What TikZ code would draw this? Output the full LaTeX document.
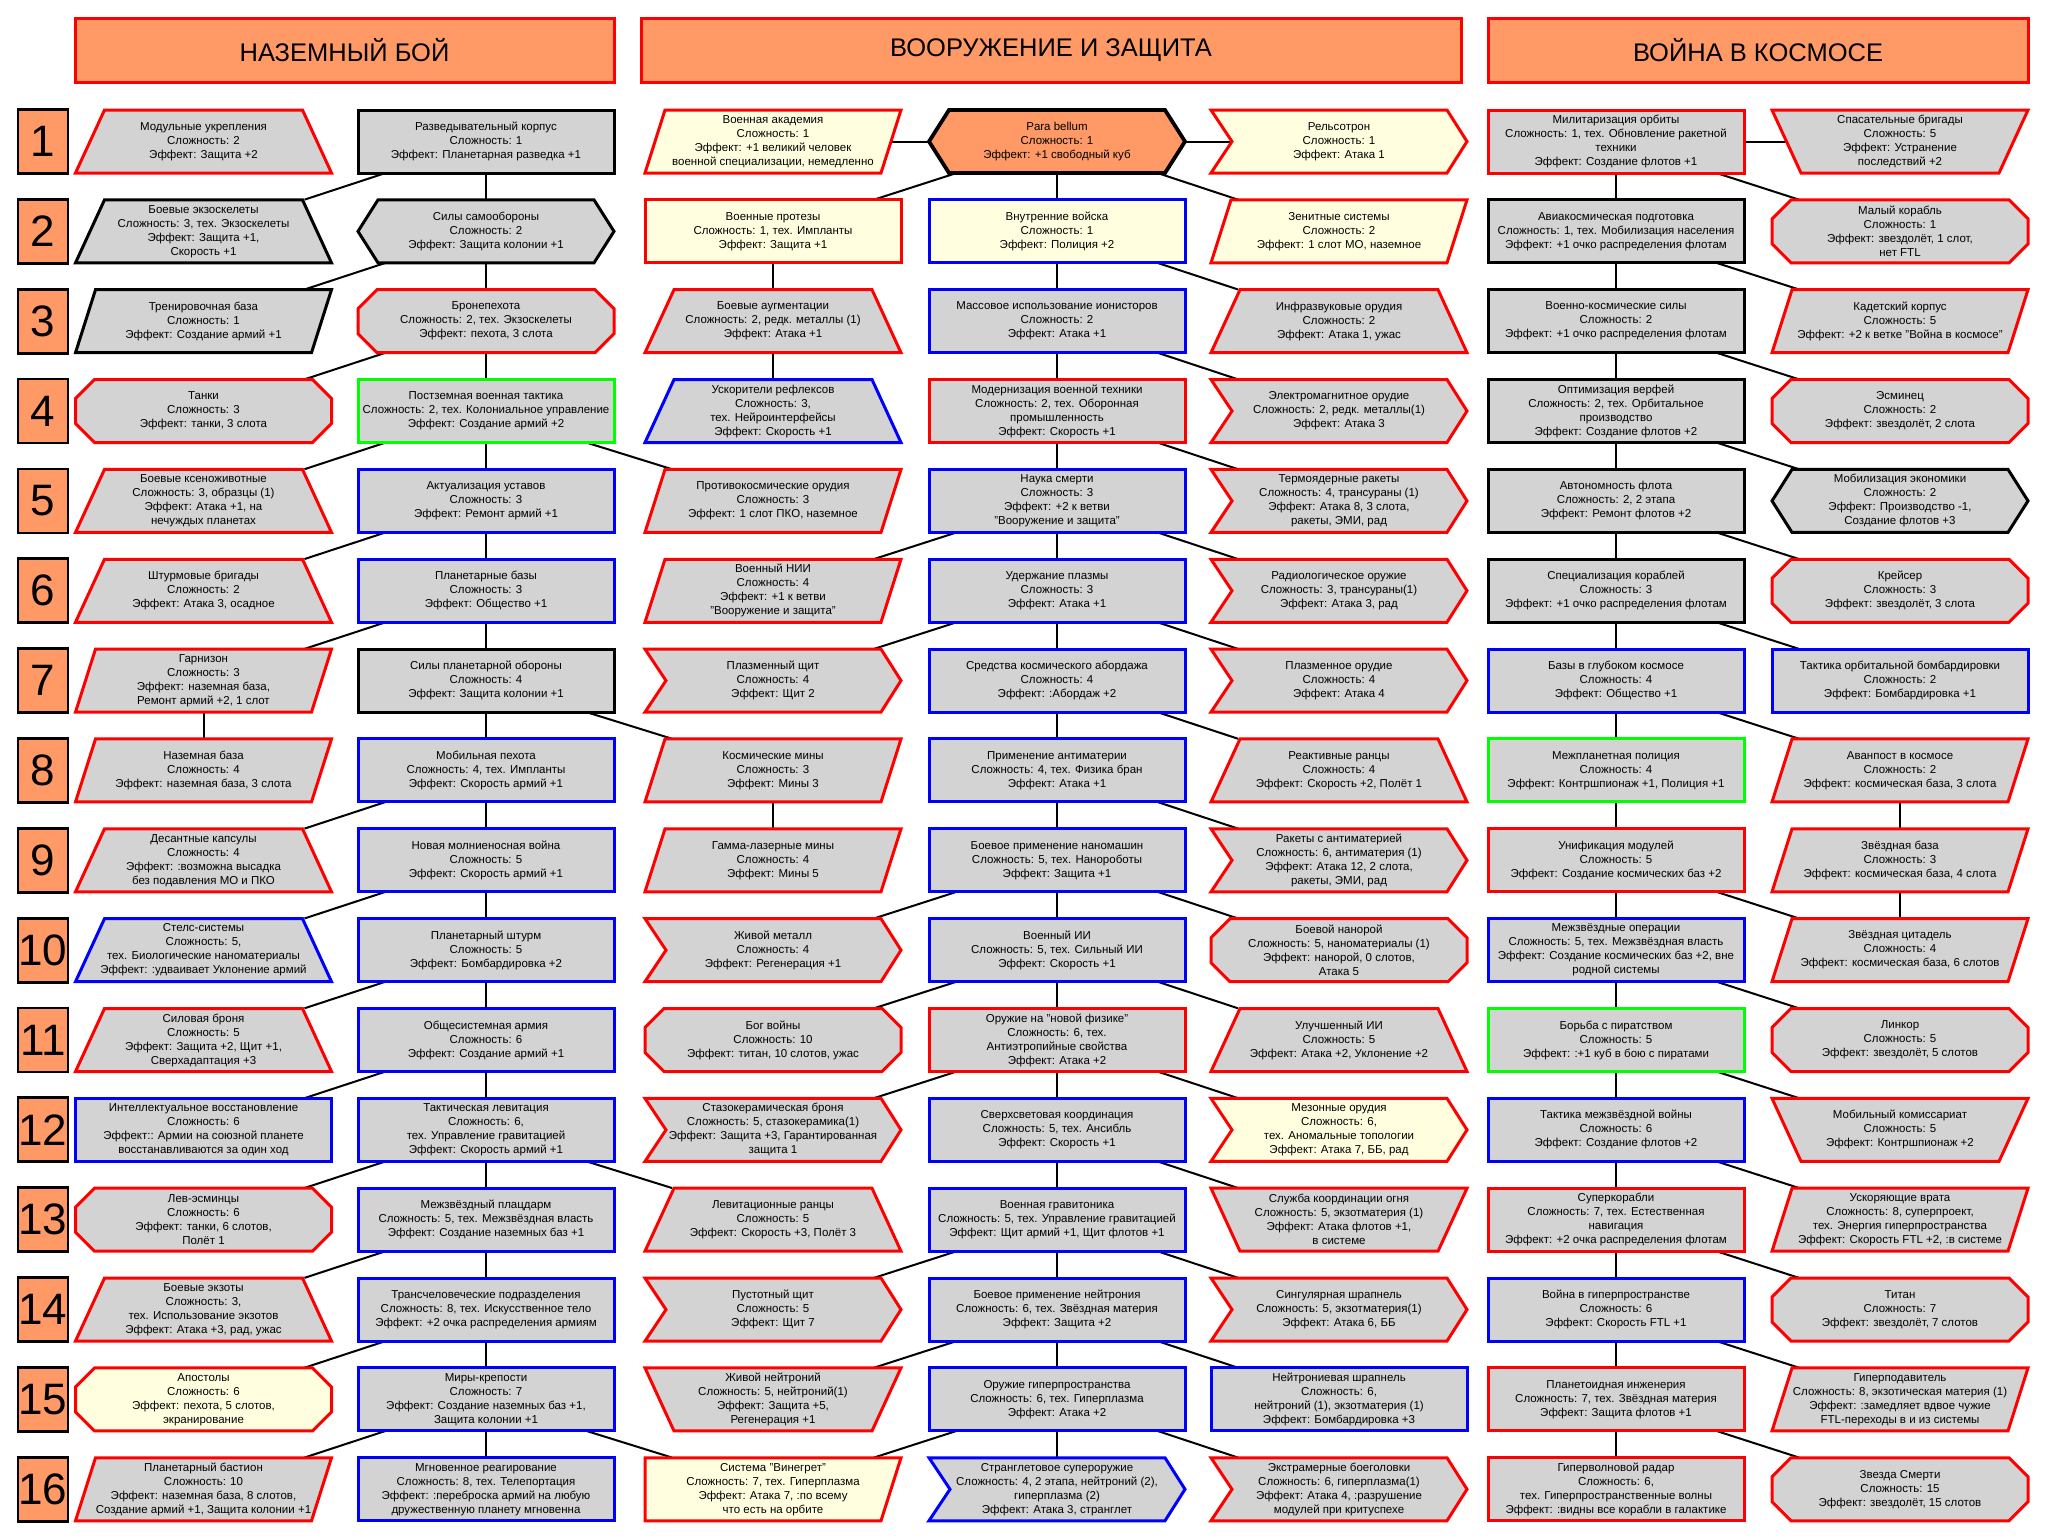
\documentclass[tikz,border=0pt]{standalone}
\usepackage{fontspec}
\setmainfont{Liberation Sans}
\usetikzlibrary{calc}
\pgfdeclarelayer{bg}
\pgfsetlayers{bg,main}
\definecolor{ngray}{HTML}{D3D3D3}
\definecolor{nyel}{HTML}{FFFFE0}
\definecolor{norg}{HTML}{FF9966}
\definecolor{nred}{HTML}{FF0000}
\definecolor{nblue}{HTML}{0000FF}
\definecolor{ngreen}{HTML}{00FF00}
\tikzset{
  shp/.style={line width=3pt},
  txt/.style={font=\fontsize{11.5}{14}\selectfont, align=center, inner sep=0pt, minimum width=256pt, minimum height=63pt},
  conn/.style={draw=black, line width=2pt},
  hdr/.style={draw=nred, fill=norg, line width=3pt, inner sep=0pt, font=\fontsize{25.5}{28}\selectfont, minimum height=64pt},
  numbox/.style={draw=black, fill=norg, line width=2.8pt, inner sep=0pt, minimum width=50pt, minimum height=64pt, font=\fontsize{44}{44}\selectfont}
}
\newcommand\shR[1]{\path[#1] (-128,-31.5) rectangle (128,31.5);}
\newcommand\shTB[1]{\path[#1] (-99,-31.5) -- (99,-31.5) -- (128,31.5) -- (-128,31.5) -- cycle;}
\newcommand\shTT[1]{\path[#1] (-128,-31.5) -- (128,-31.5) -- (99,31.5) -- (-99,31.5) -- cycle;}
\newcommand\shPR[1]{\path[#1] (-108,-31.5) -- (128,-31.5) -- (108,31.5) -- (-128,31.5) -- cycle;}
\newcommand\shRT[1]{\path[#1] (-128,-31.5) -- (128,-31.5) -- (108,31.5) -- (-128,31.5) -- cycle;}
\newcommand\shHX[1]{\path[#1] (-128,0) -- (-108,-31.5) -- (108,-31.5) -- (128,0) -- (108,31.5) -- (-108,31.5) -- cycle;}
\newcommand\shOC[1]{\path[#1] (-128,-12.5) -- (-109,-31.5) -- (109,-31.5) -- (128,-12.5) -- (128,12.5) -- (109,31.5) -- (-109,31.5) -- (-128,12.5) -- cycle;}
\newcommand\shCV[1]{\path[#1] (-128,-31.5) -- (108,-31.5) -- (128,0) -- (108,31.5) -- (-128,31.5) -- (-107,0) -- cycle;}
\newcommand\mknode[7]{%
  \pgfmathsetmacro\rowy{141.5+(#3-1)*89.85}%
  \begin{scope}[shift={(#2,\rowy)}]
    \csname sh#4\endcsname{shp,draw=#5,fill=#6}
    \node[txt] (#1) at (0,0) {#7};
  \end{scope}}
\begin{document}
\begin{tikzpicture}[x=1pt,y=-1pt]
\useasboundingbox (0,0) rectangle (2058,1537);
% headers
\node[hdr, minimum width=539pt] (h1) at (344.5,50) {НАЗЕМНЫЙ БОЙ};
\node[hdr, minimum width=820pt] (h2) at (1051,50) {ВООРУЖЕНИЕ И ЗАЩИТА};
\node[hdr, minimum width=540pt] (h3) at (1758,50) {ВОЙНА В КОСМОСЕ};
% row numbers
\foreach \i in {1,...,16}{
  \pgfmathsetmacro\numy{141.5+(\i-1)*89.85}
  \node[numbox] (n\i) at (43,\numy) {\i};
}
% ground combat
\mknode{a1}{203.5}{1}{TB}{nred}{ngray}{Модульные укрепления\\Сложность: 2\\Эффект: Защита +2}
\mknode{b1}{486}{1}{R}{black}{ngray}{Разведывательный корпус\\Сложность: 1\\Эффект: Планетарная разведка +1}
\mknode{a2}{203.5}{2}{TB}{black}{ngray}{Боевые экзоскелеты\\Сложность: 3, тех. Экзоскелеты\\Эффект: Защита +1,\\Скорость +1}
\mknode{b2}{486}{2}{HX}{black}{ngray}{Силы самообороны\\Сложность: 2\\Эффект: Защита колонии +1}
\mknode{a3}{203.5}{3}{PR}{black}{ngray}{Тренировочная база\\Сложность: 1\\Эффект: Создание армий +1}
\mknode{b3}{486}{3}{OC}{nred}{ngray}{Бронепехота\\Сложность: 2, тех. Экзоскелеты\\Эффект: пехота, 3 слота}
\mknode{a4}{203.5}{4}{OC}{nred}{ngray}{Танки\\Сложность: 3\\Эффект: танки, 3 слота}
\mknode{b4}{486}{4}{R}{ngreen}{ngray}{Постземная военная тактика\\Сложность: 2, тех. Колониальное управление\\Эффект: Создание армий +2}
\mknode{a5}{203.5}{5}{TB}{nred}{ngray}{Боевые ксеноживотные\\Сложность: 3, образцы (1)\\Эффект: Атака +1, на\\нечуждых планетах}
\mknode{b5}{486}{5}{R}{nblue}{ngray}{Актуализация уставов\\Сложность: 3\\Эффект: Ремонт армий +1}
\mknode{a6}{203.5}{6}{TB}{nred}{ngray}{Штурмовые бригады\\Сложность: 2\\Эффект: Атака 3, осадное}
\mknode{b6}{486}{6}{R}{nblue}{ngray}{Планетарные базы\\Сложность: 3\\Эффект: Общество +1}
\mknode{a7}{203.5}{7}{PR}{nred}{ngray}{Гарнизон\\Сложность: 3\\Эффект: наземная база,\\Ремонт армий +2, 1 слот}
\mknode{b7}{486}{7}{R}{black}{ngray}{Силы планетарной обороны\\Сложность: 4\\Эффект: Защита колонии +1}
\mknode{a8}{203.5}{8}{PR}{nred}{ngray}{Наземная база\\Сложность: 4\\Эффект: наземная база, 3 слота}
\mknode{b8}{486}{8}{R}{nblue}{ngray}{Мобильная пехота\\Сложность: 4, тех. Импланты\\Эффект: Скорость армий +1}
\mknode{a9}{203.5}{9}{TB}{nred}{ngray}{Десантные капсулы\\Сложность: 4\\Эффект: :возможна высадка\\без подавления МО и ПКО}
\mknode{b9}{486}{9}{R}{nblue}{ngray}{Новая молниеносная война\\Сложность: 5\\Эффект: Скорость армий +1}
\mknode{a10}{203.5}{10}{TB}{nblue}{ngray}{Стелс-системы\\Сложность: 5,\\тех. Биологические наноматериалы\\Эффект: :удваивает Уклонение армий}
\mknode{b10}{486}{10}{R}{nblue}{ngray}{Планетарный штурм\\Сложность: 5\\Эффект: Бомбардировка +2}
\mknode{a11}{203.5}{11}{TB}{nred}{ngray}{Силовая броня\\Сложность: 5\\Эффект: Защита +2, Щит +1,\\Сверхадаптация +3}
\mknode{b11}{486}{11}{R}{nblue}{ngray}{Общесистемная армия\\Сложность: 6\\Эффект: Создание армий +1}
\mknode{a12}{203.5}{12}{R}{nblue}{ngray}{Интеллектуальное восстановление\\Сложность: 6\\Эффект:: Армии на союзной планете\\восстанавливаются за один ход}
\mknode{b12}{486}{12}{R}{nblue}{ngray}{Тактическая левитация\\Сложность: 6,\\тех. Управление гравитацией\\Эффект: Скорость армий +1}
\mknode{a13}{203.5}{13}{OC}{nred}{ngray}{Лев-эсминцы\\Сложность: 6\\Эффект: танки, 6 слотов,\\Полёт 1}
\mknode{b13}{486}{13}{R}{nblue}{ngray}{Межзвёздный плацдарм\\Сложность: 5, тех. Межзвёздная власть\\Эффект: Создание наземных баз +1}
\mknode{a14}{203.5}{14}{TB}{nred}{ngray}{Боевые экзоты\\Сложность: 3,\\тех. Использование экзотов\\Эффект: Атака +3, рад, ужас}
\mknode{b14}{486}{14}{R}{nblue}{ngray}{Трансчеловеческие подразделения\\Сложность: 8, тех. Искусственное тело\\Эффект: +2 очка распределения армиям}
\mknode{a15}{203.5}{15}{OC}{nred}{nyel}{Апостолы\\Сложность: 6\\Эффект: пехота, 5 слотов,\\экранирование}
\mknode{b15}{486}{15}{R}{nblue}{ngray}{Миры-крепости\\Сложность: 7\\Эффект: Создание наземных баз +1,\\Защита колонии +1}
\mknode{a16}{203.5}{16}{PR}{nred}{ngray}{Планетарный бастион\\Сложность: 10\\Эффект: наземная база, 8 слотов,\\Создание армий +1, Защита колонии +1}
\mknode{b16}{486}{16}{R}{nblue}{ngray}{Мгновенное реагирование\\Сложность: 8, тех. Телепортация\\Эффект: :переброска армий на любую\\дружественную планету мгновенна}
% weapons and defence
\mknode{c1}{773}{1}{PR}{nred}{nyel}{Военная академия\\Сложность: 1\\Эффект: +1 великий человек\\военной специализации, немедленно}
\mknode{d1}{1057}{1}{HX}{black,line width=3.8pt}{norg}{Para bellum\\Сложность: 1\\Эффект: +1 свободный куб}
\mknode{e1}{1339}{1}{CV}{nred}{nyel}{Рельсотрон\\Сложность: 1\\Эффект: Атака 1}
\mknode{c2}{773}{2}{R}{nred}{nyel}{Военные протезы\\Сложность: 1, тех. Импланты\\Эффект: Защита +1}
\mknode{d2}{1057}{2}{R}{nblue}{nyel}{Внутренние войска\\Сложность: 1\\Эффект: Полиция +2}
\mknode{e2}{1339}{2}{PR}{nred}{nyel}{Зенитные системы\\Сложность: 2\\Эффект: 1 слот МО, наземное}
\mknode{c3}{773}{3}{TB}{nred}{ngray}{Боевые аугментации\\Сложность: 2, редк. металлы (1)\\Эффект: Атака +1}
\mknode{d3}{1057}{3}{R}{nblue}{ngray}{Массовое использование ионисторов\\Сложность: 2\\Эффект: Атака +1}
\mknode{e3}{1339}{3}{TB}{nred}{ngray}{Инфразвуковые орудия\\Сложность: 2\\Эффект: Атака 1, ужас}
\mknode{c4}{773}{4}{TB}{nblue}{ngray}{Ускорители рефлексов\\Сложность: 3,\\тех. Нейроинтерфейсы\\Эффект: Скорость +1}
\mknode{d4}{1057}{4}{R}{nred}{ngray}{Модернизация военной техники\\Сложность: 2, тех. Оборонная\\промышленность\\Эффект: Скорость +1}
\mknode{e4}{1339}{4}{CV}{nred}{ngray}{Электромагнитное орудие\\Сложность: 2, редк. металлы(1)\\Эффект: Атака 3}
\mknode{c5}{773}{5}{PR}{nred}{ngray}{Противокосмические орудия\\Сложность: 3\\Эффект: 1 слот ПКО, наземное}
\mknode{d5}{1057}{5}{R}{nblue}{ngray}{Наука смерти\\Сложность: 3\\Эффект: +2 к ветви\\"Вооружение и защита"}
\mknode{e5}{1339}{5}{CV}{nred}{ngray}{Термоядерные ракеты\\Сложность: 4, трансураны (1)\\Эффект: Атака 8, 3 слота,\\ракеты, ЭМИ, рад}
\mknode{c6}{773}{6}{PR}{nred}{ngray}{Военный НИИ\\Сложность: 4\\Эффект: +1 к ветви\\"Вооружение и защита"}
\mknode{d6}{1057}{6}{R}{nblue}{ngray}{Удержание плазмы\\Сложность: 3\\Эффект: Атака +1}
\mknode{e6}{1339}{6}{CV}{nred}{ngray}{Радиологическое оружие\\Сложность: 3, трансураны(1)\\Эффект: Атака 3, рад}
\mknode{c7}{773}{7}{CV}{nred}{ngray}{Плазменный щит\\Сложность: 4\\Эффект: Щит 2}
\mknode{d7}{1057}{7}{R}{nblue}{ngray}{Средства космического абордажа\\Сложность: 4\\Эффект: :Абордаж +2}
\mknode{e7}{1339}{7}{CV}{nred}{ngray}{Плазменное орудие\\Сложность: 4\\Эффект: Атака 4}
\mknode{c8}{773}{8}{PR}{nred}{ngray}{Космические мины\\Сложность: 3\\Эффект: Мины 3}
\mknode{d8}{1057}{8}{R}{nblue}{ngray}{Применение антиматерии\\Сложность: 4, тех. Физика бран\\Эффект: Атака +1}
\mknode{e8}{1339}{8}{TB}{nred}{ngray}{Реактивные ранцы\\Сложность: 4\\Эффект: Скорость +2, Полёт 1}
\mknode{c9}{773}{9}{PR}{nred}{ngray}{Гамма-лазерные мины\\Сложность: 4\\Эффект: Мины 5}
\mknode{d9}{1057}{9}{R}{nblue}{ngray}{Боевое применение наномашин\\Сложность: 5, тех. Нанороботы\\Эффект: Защита +1}
\mknode{e9}{1339}{9}{CV}{nred}{ngray}{Ракеты с антиматерией\\Сложность: 6, антиматерия (1)\\Эффект: Атака 12, 2 слота,\\ракеты, ЭМИ, рад}
\mknode{c10}{773}{10}{CV}{nred}{ngray}{Живой металл\\Сложность: 4\\Эффект: Регенерация +1}
\mknode{d10}{1057}{10}{R}{nblue}{ngray}{Военный ИИ\\Сложность: 5, тех. Сильный ИИ\\Эффект: Скорость +1}
\mknode{e10}{1339}{10}{OC}{nred}{ngray}{Боевой нанорой\\Сложность: 5, наноматериалы (1)\\Эффект: нанорой, 0 слотов,\\Атака 5}
\mknode{c11}{773}{11}{OC}{nred}{ngray}{Бог войны\\Сложность: 10\\Эффект: титан, 10 слотов, ужас}
\mknode{d11}{1057}{11}{R}{nred}{ngray}{Оружие на "новой физике"\\Сложность: 6, тех.\\Антиэтропийные свойства\\Эффект: Атака +2}
\mknode{e11}{1339}{11}{TB}{nred}{ngray}{Улучшенный ИИ\\Сложность: 5\\Эффект: Атака +2, Уклонение +2}
\mknode{c12}{773}{12}{CV}{nred}{ngray}{Стазокерамическая броня\\Сложность: 5, стазокерамика(1)\\Эффект: Защита +3, Гарантированная\\защита 1}
\mknode{d12}{1057}{12}{R}{nblue}{ngray}{Сверхсветовая координация\\Сложность: 5, тех. Ансибль\\Эффект: Скорость +1}
\mknode{e12}{1339}{12}{CV}{nred}{nyel}{Мезонные орудия\\Сложность: 6,\\тех. Аномальные топологии\\Эффект: Атака 7, ББ, рад}
\mknode{c13}{773}{13}{TB}{nred}{ngray}{Левитационные ранцы\\Сложность: 5\\Эффект: Скорость +3, Полёт 3}
\mknode{d13}{1057}{13}{R}{nblue}{ngray}{Военная гравитоника\\Сложность: 5, тех. Управление гравитацией\\Эффект: Щит армий +1, Щит флотов +1}
\mknode{e13}{1339}{13}{TT}{nred}{ngray}{Служба координации огня\\Сложность: 5, экзотматерия (1)\\Эффект: Атака флотов +1,\\в системе}
\mknode{c14}{773}{14}{CV}{nred}{ngray}{Пустотный щит\\Сложность: 5\\Эффект: Щит 7}
\mknode{d14}{1057}{14}{R}{nblue}{ngray}{Боевое применение нейтрония\\Сложность: 6, тех. Звёздная материя\\Эффект: Защита +2}
\mknode{e14}{1339}{14}{CV}{nred}{ngray}{Сингулярная шрапнель\\Сложность: 5, экзотматерия(1)\\Эффект: Атака 6, ББ}
\mknode{c15}{773}{15}{TT}{nred}{ngray}{Живой нейтроний\\Сложность: 5, нейтроний(1)\\Эффект: Защита +5,\\Регенерация +1}
\mknode{d15}{1057}{15}{R}{nblue}{ngray}{Оружие гиперпространства\\Сложность: 6, тех. Гиперплазма\\Эффект: Атака +2}
\mknode{e15}{1339}{15}{R}{nblue}{ngray}{Нейтрониевая шрапнель\\Сложность: 6,\\нейтроний (1), экзотматерия (1)\\Эффект: Бомбардировка +3}
\mknode{c16}{773}{16}{RT}{nred}{nyel}{Система "Винегрет"\\Сложность: 7, тех. Гиперплазма\\Эффект: Атака 7, :по всему\\что есть на орбите}
\mknode{d16}{1057}{16}{CV}{nblue}{ngray}{Странглетовое супероружие\\Сложность: 4, 2 этапа, нейтроний (2),\\гиперплазма (2)\\Эффект: Атака 3, странглет}
\mknode{e16}{1339}{16}{CV}{nred}{ngray}{Экстрамерные боеголовки\\Сложность: 6, гиперплазма(1)\\Эффект: Атака 4, :разрушение\\модулей при критуспехе}
% space war
\mknode{f1}{1616}{1}{R}{nred}{ngray}{Милитаризация орбиты\\Сложность: 1, тех. Обновление ракетной\\техники\\Эффект: Создание флотов +1}
\mknode{g1}{1900}{1}{TT}{nred}{ngray}{Спасательные бригады\\Сложность: 5\\Эффект: Устранение\\последствий +2}
\mknode{f2}{1616}{2}{R}{black}{ngray}{Авиакосмическая подготовка\\Сложность: 1, тех. Мобилизация населения\\Эффект: +1 очко распределения флотам}
\mknode{g2}{1900}{2}{OC}{nred}{ngray}{Малый корабль\\Сложность: 1\\Эффект: звездолёт, 1 слот,\\нет FTL}
\mknode{f3}{1616}{3}{R}{black}{ngray}{Военно-космические силы\\Сложность: 2\\Эффект: +1 очко распределения флотам}
\mknode{g3}{1900}{3}{PR}{nred}{ngray}{Кадетский корпус\\Сложность: 5\\Эффект: +2 к ветке "Война в космосе"}
\mknode{f4}{1616}{4}{R}{black}{ngray}{Оптимизация верфей\\Сложность: 2, тех. Орбитальное\\производство\\Эффект: Создание флотов +2}
\mknode{g4}{1900}{4}{OC}{nred}{ngray}{Эсминец\\Сложность: 2\\Эффект: звездолёт, 2 слота}
\mknode{f5}{1616}{5}{R}{black}{ngray}{Автономность флота\\Сложность: 2, 2 этапа\\Эффект: Ремонт флотов +2}
\mknode{g5}{1900}{5}{HX}{black}{ngray}{Мобилизация экономики\\Сложность: 2\\Эффект: Производство -1,\\Создание флотов +3}
\mknode{f6}{1616}{6}{R}{black}{ngray}{Специализация кораблей\\Сложность: 3\\Эффект: +1 очко распределения флотам}
\mknode{g6}{1900}{6}{OC}{nred}{ngray}{Крейсер\\Сложность: 3\\Эффект: звездолёт, 3 слота}
\mknode{f7}{1616}{7}{R}{nblue}{ngray}{Базы в глубоком космосе\\Сложность: 4\\Эффект: Общество +1}
\mknode{g7}{1900}{7}{R}{nblue}{ngray}{Тактика орбитальной бомбардировки\\Сложность: 2\\Эффект: Бомбардировка +1}
\mknode{f8}{1616}{8}{R}{ngreen}{ngray}{Межпланетная полиция\\Сложность: 4\\Эффект: Контршпионаж +1, Полиция +1}
\mknode{g8}{1900}{8}{PR}{nred}{ngray}{Аванпост в космосе\\Сложность: 2\\Эффект: космическая база, 3 слота}
\mknode{f9}{1616}{9}{R}{nred}{ngray}{Унификация модулей\\Сложность: 5\\Эффект: Создание космических баз +2}
\mknode{g9}{1900}{9}{PR}{nred}{ngray}{Звёздная база\\Сложность: 3\\Эффект: космическая база, 4 слота}
\mknode{f10}{1616}{10}{R}{nblue}{ngray}{Межзвёздные операции\\Сложность: 5, тех. Межзвёздная власть\\Эффект: Создание космических баз +2, вне\\родной системы}
\mknode{g10}{1900}{10}{PR}{nred}{ngray}{Звёздная цитадель\\Сложность: 4\\Эффект: космическая база, 6 слотов}
\mknode{f11}{1616}{11}{R}{ngreen}{ngray}{Борьба с пиратством\\Сложность: 5\\Эффект: :+1 куб в бою с пиратами}
\mknode{g11}{1900}{11}{OC}{nred}{ngray}{Линкор\\Сложность: 5\\Эффект: звездолёт, 5 слотов}
\mknode{f12}{1616}{12}{R}{nblue}{ngray}{Тактика межзвёздной войны\\Сложность: 6\\Эффект: Создание флотов +2}
\mknode{g12}{1900}{12}{TT}{nred}{ngray}{Мобильный комиссариат\\Сложность: 5\\Эффект: Контршпионаж +2}
\mknode{f13}{1616}{13}{R}{nred}{ngray}{Суперкорабли\\Сложность: 7, тех. Естественная\\навигация\\Эффект: +2 очка распределения флотам}
\mknode{g13}{1900}{13}{PR}{nred}{ngray}{Ускоряющие врата\\Сложность: 8, суперпроект,\\тех. Энергия гиперпространства\\Эффект: Скорость FTL +2, :в системе}
\mknode{f14}{1616}{14}{R}{nblue}{ngray}{Война в гиперпространстве\\Сложность: 6\\Эффект: Скорость FTL +1}
\mknode{g14}{1900}{14}{OC}{nred}{ngray}{Титан\\Сложность: 7\\Эффект: звездолёт, 7 слотов}
\mknode{f15}{1616}{15}{R}{nred}{ngray}{Планетоидная инженерия\\Сложность: 7, тех. Звёздная материя\\Эффект: Защита флотов +1}
\mknode{g15}{1900}{15}{PR}{nred}{ngray}{Гиперподавитель\\Сложность: 8, экзотическая материя (1)\\Эффект: :замедляет вдвое чужие\\FTL-переходы в и из системы}
\mknode{f16}{1616}{16}{R}{nred}{ngray}{Гиперволновой радар\\Сложность: 6,\\тех. Гиперпространственные волны\\Эффект: :видны все корабли в галактике}
\mknode{g16}{1900}{16}{OC}{nred}{ngray}{Звезда Смерти\\Сложность: 15\\Эффект: звездолёт, 15 слотов}
% connectors (drawn underneath the shapes)
\begin{pgfonlayer}{bg}
\fill[white] (0,0) rectangle (2058,1537);
\foreach \p/\c in {b1/b2,b2/b3,b3/b4,b4/b5,b5/b6,b6/b7,b7/b8,b8/b9,b9/b10,b10/b11,b11/b12,b12/b13,b13/b14,b14/b15,b15/b16,
  a7/a8,
  d1/d2,d2/d3,d3/d4,d4/d5,d5/d6,d6/d7,d7/d8,d8/d9,d9/d10,d10/d11,d11/d12,d12/d13,d13/d14,d14/d15,d15/d16,
  c2/c3,c3/c4,c8/c9,
  f1/f2,f2/f3,f3/f4,f4/f5,f5/f6,f6/f7,f7/f8,f8/f9,f9/f10,f10/f11,f11/f12,f12/f13,f13/f14,f14/f15,f15/f16,
  g8/g9,g9/g10}
  {\draw[conn] (\p.south) -- (\c.north);}
\foreach \p/\c in {b1/a2,b2/a3,b3/a4,b4/a5,b5/a6,b6/a7,b8/a9,b9/a10,b10/a11,b11/a12,b12/a13,b13/a14,b14/a15,b15/a16,
  d1/c2,d5/c6,d6/c7,d9/c10,d10/c11,d11/c12,d13/c14,d14/c15,d15/c16}
  {\draw[conn] ($(\p.south)+(-101,0)$) -- ($(\c.north)+(101,0)$);}
\foreach \p/\c in {b4/c5,b7/c8,b12/c13,b15/c16,
  d1/e2,d2/e3,d3/e4,d4/e5,d5/e6,d6/e7,d7/e8,d8/e9,d9/e10,d10/e11,d11/e12,d12/e13,d13/e14,d14/e15,d15/e16,
  f1/g2,f2/g3,f3/g4,f4/g5,f5/g6,f6/g7,f7/g8,f9/g10,f10/g11,f11/g12,f12/g13,f13/g14,f14/g15,f15/g16}
  {\draw[conn] ($(\p.south)+(101,0)$) -- ($(\c.north)+(-101,0)$);}
\draw[conn] (c1.center) -- (d1.center);
\draw[conn] (d1.center) -- (e1.center);
\draw[conn] (f1.center) -- (g1.center);
\end{pgfonlayer}
\end{tikzpicture}
\end{document}
